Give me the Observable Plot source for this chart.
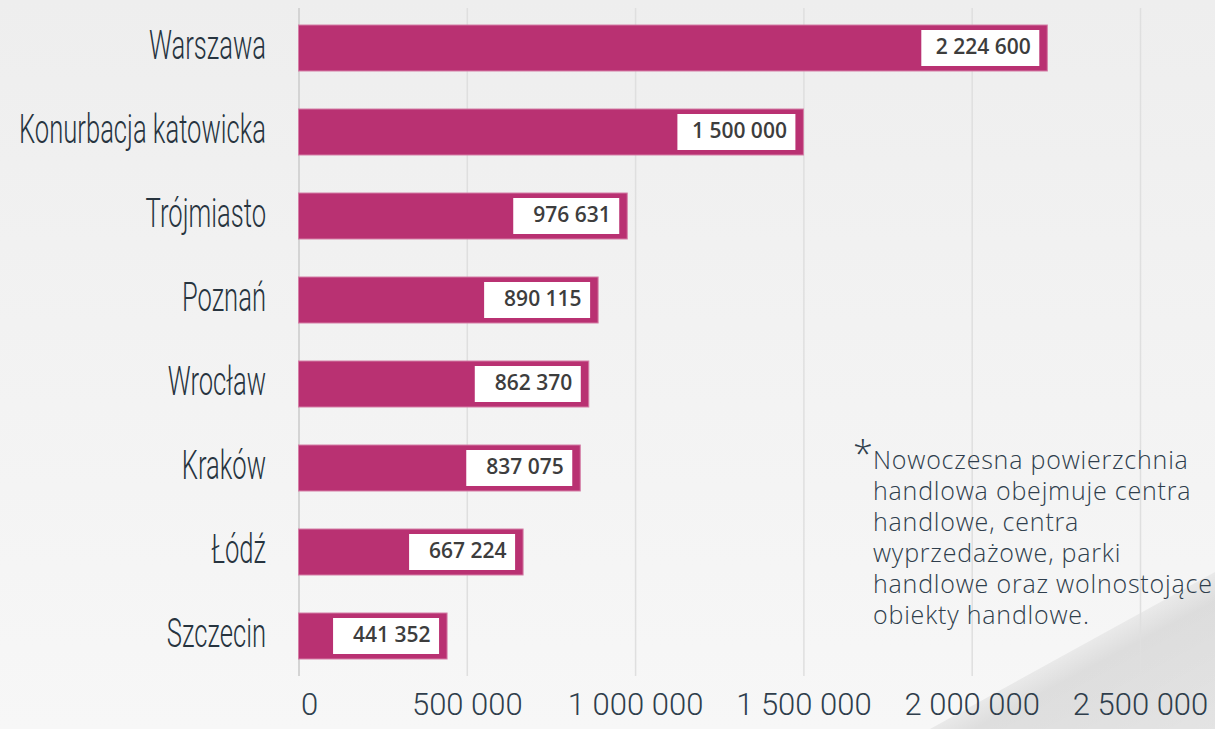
<!DOCTYPE html>
<html><head><meta charset="utf-8">
<script src="https://cdn.jsdelivr.net/npm/d3@7"></script>
<script src="https://cdn.jsdelivr.net/npm/@observablehq/plot@0.6"></script>
<style>
html,body{margin:0;padding:0;width:1215px;height:729px;overflow:hidden;}
body{background:linear-gradient(#eeeeee,#f7f7f7);position:relative;font-family:"Open Sans",sans-serif;}
#shadow{position:absolute;left:900px;top:560px;width:315px;height:169px;
  clip-path:polygon(30px 169px, 315px 12px, 315px 169px);
  background:linear-gradient(152deg, rgba(0,0,0,0) 46%, rgba(0,0,0,0.10) 62%, rgba(0,0,0,0.08) 100%);}
#chart{position:absolute;left:0;top:0;}
#note{position:absolute;left:873px;top:444px;font-family:"Open Sans",sans-serif;font-weight:300;font-size:25px;letter-spacing:0.8px;line-height:31px;color:#2f3e4c;white-space:nowrap;}
#note .ast{position:absolute;left:-20px;top:-8px;font-size:36px;line-height:36px;}
</style>
</head><body>
<div id="shadow"></div>
<div id="chart"></div>
<div id="note"></div>
<script>
const cities = ["Warszawa","Konurbacja katowicka","Trójmiasto","Poznań","Wrocław","Kraków","Łódź","Szczecin"];
const values = [2224600,1500000,976631,890115,862370,837075,667224,441352];
const xTicks = [0,500000,1000000,1500000,2000000,2500000];
const noteLines = ["Nowoczesna powierzchnia","handlowa obejmuje centra","handlowe, centra","wyprzedażowe, parki","handlowe oraz wolnostojące","obiekty handlowe."];

const fmt = d3.formatLocale({decimal:",",thousands:"\u00a0",grouping:[3],currency:["",""]}).format(",d");
const data = cities.map((c,i)=>({city:c, value:values[i], label:fmt(values[i])}));
const longLab = data.filter(d=>d.label.length>7);
const shortLab = data.filter(d=>d.label.length<=7);

const chart = Plot.plot({
  width:1215, height:729, marginTop:8, marginBottom:53, marginLeft:298.5, marginRight:75,
  style:{background:"transparent", overflow:"visible"},
  x:{domain:[0,2500000], axis:null},
  y:{domain:cities, paddingInner:0.45, paddingOuter:0.2, axis:null},
  marks:[
    Plot.ruleX(xTicks.slice(1), {stroke:"#dfdfdf", strokeWidth:1.5}),
    Plot.ruleX([0], {stroke:"#d4d4d4", strokeWidth:2}),
    Plot.barX(data, {x:"value", y:"city", fill:"#b93172", stroke:"#d47ea6", strokeWidth:1}),
    Plot.barX(longLab, {x1:"value", x2:"value", y:"city", fill:"white", insetTop:5, insetBottom:5, insetRight:8, insetLeft:-126}),
    Plot.barX(shortLab, {x1:"value", x2:"value", y:"city", fill:"white", insetTop:5, insetBottom:5, insetRight:8, insetLeft:-114}),
    Plot.text(data, {x:"value", y:"city", text:"label", textAnchor:"end", dx:-17, dy:-1,
      fontSize:21, fontWeight:600, fontFamily:"Open Sans", fill:"#3d3d3d"}),
    Plot.text(data, {y:"city", frameAnchor:"left", dx:-33, dy:-3, textAnchor:"end", text:"city",
      fontSize:41, fontWeight:300, fontFamily:"Roboto", fill:"#27343f"}),
    Plot.text(xTicks.slice(1), {x:d=>d, frameAnchor:"bottom", dy:38, text:d=>fmt(d),
      fontSize:31, fontWeight:300, fontFamily:"Roboto", fill:"#2f3e4c"}),
    Plot.text([0], {x:d=>d, frameAnchor:"bottom", dy:38, dx:2, textAnchor:"start", text:d=>fmt(d),
      fontSize:31, fontWeight:300, fontFamily:"Roboto", fill:"#2f3e4c"})
  ]
});
document.getElementById("chart").appendChild(chart);

// condense category labels (narrow typeface look)
const labs = Array.from(chart.querySelectorAll("text")).filter(t => cities.includes(t.textContent));
let refLen = null;
labs.forEach(t=>{ if (t.textContent === "Konurbacja katowicka") refLen = t.getComputedTextLength(); });
const k = refLen ? 247/refLen : 0.65;
labs.forEach(t=>{
  const L = t.getComputedTextLength();
  t.setAttribute("textLength", (L*k).toFixed(1));
  t.setAttribute("lengthAdjust","spacingAndGlyphs");
});

const note = document.getElementById("note");
note.innerHTML = '<span class="ast">*</span>' + noteLines.join("<br>");
</script>
</body></html>
